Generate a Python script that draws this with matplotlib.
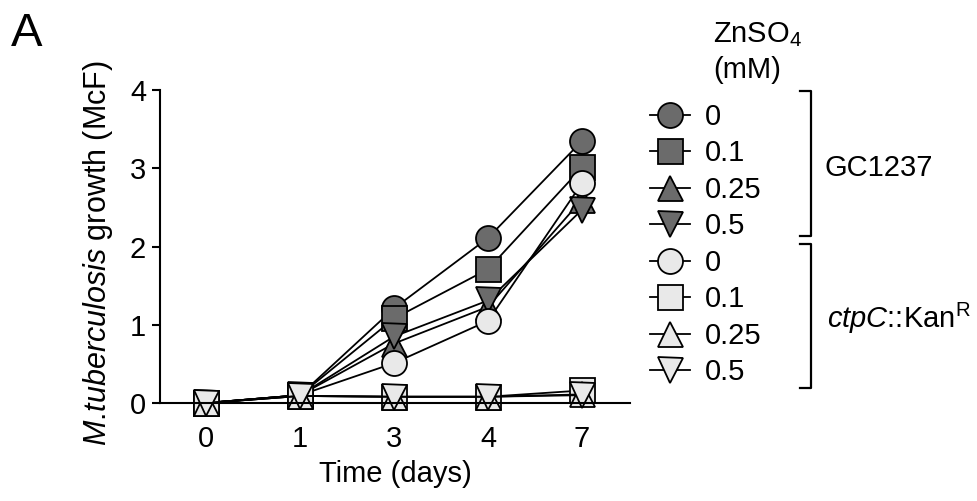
import matplotlib
matplotlib.use("Agg")
import matplotlib.pyplot as plt
from matplotlib.lines import Line2D

plt.rcParams['font.family'] = ['Liberation Sans', 'DejaVu Sans']
plt.rcParams['mathtext.fontset'] = 'custom'
plt.rcParams['mathtext.rm'] = 'Liberation Sans'
plt.rcParams['mathtext.it'] = 'Liberation Sans:italic'

days = ['0', '1', '3', '4', '7']
zn_labels = ['0', '0.1', '0.25', '0.5']

gc1237 = {
    '0':    [0, 0.10, 1.21, 2.11, 3.35],
    '0.1':  [0, 0.10, 1.08, 1.71, 3.01],
    '0.25': [0, 0.10, 0.76, 1.23, 2.60],
    '0.5':  [0, 0.10, 0.85, 1.31, 2.47],
}
ctpc = {
    '0':    [0, 0.10, 0.51, 1.05, 2.81],
    '0.1':  [0, 0.09, 0.08, 0.08, 0.16],
    '0.25': [0, 0.09, 0.08, 0.08, 0.11],
    '0.5':  [0, 0.09, 0.08, 0.08, 0.10],
}

markers = ['o', 's', '^', 'v']
dark = '#6b6b6b'
light = '#e9e9e9'
FS = 21

fig = plt.figure(figsize=(9.77, 5.01), dpi=100)
ax = fig.add_axes([160/977, 1-403/501, 470/977, 313/501])

x = range(len(days))
handles = []
for color, group in [(dark, gc1237), (light, ctpc)]:
    for m, lab in zip(markers, zn_labels):
        h, = ax.plot(x, group[lab], marker=m, color='black', lw=1.3,
                     markerfacecolor=color, markeredgecolor='black',
                     markeredgewidth=1.3, markersize=18, clip_on=False,
                     label=lab)
        handles.append(h)

ax.set_xlim(-0.49, 4.51)
ax.set_ylim(0, 4)
ax.set_xticks(list(x))
ax.set_xticklabels(days)
ax.set_yticks([0, 1, 2, 3, 4])
ax.tick_params(axis='y', direction='out', length=6, width=1.5, labelsize=FS, pad=4)
ax.tick_params(axis='x', length=0, labelsize=FS, pad=16)
for s in ['top', 'right']:
    ax.spines[s].set_visible(False)
for s in ['left', 'bottom']:
    ax.spines[s].set_linewidth(1.5)
ax.set_xlabel('Time (days)', fontsize=FS, labelpad=5)
ax.set_ylabel(r'$\mathit{M.\!tuberculosis}$ growth (McF)', fontsize=22)
ax.yaxis.set_label_coords(-0.096, 0.479)

leg = fig.legend(handles=handles, labels=zn_labels * 2, loc='upper left',
                 bbox_to_anchor=(650/977, 1-103/501), frameon=False,
                 fontsize=FS, handlelength=1.37, handletextpad=0.5,
                 labelspacing=0.29, borderaxespad=0, borderpad=0)

fig.text(713/977, 1-35/501, r'ZnSO$_4$', fontsize=FS, va='center', ha='left')
fig.text(713/977, 1-70/501, '(mM)', fontsize=FS, va='center', ha='left')

def bracket(y0, y1):
    xs = [800/977, 811/977, 811/977, 800/977]
    ys = [1-y0/501, 1-y0/501, 1-y1/501, 1-y1/501]
    fig.add_artist(Line2D(xs, ys, color='black', lw=1.6, transform=fig.transFigure))

bracket(91, 236)
bracket(244, 388)
fig.text(825/977, 1-168/501, 'GC1237', fontsize=FS, va='center', ha='left')
fig.text(827/977, 1-318/501, r'$\mathit{ctpC}$::Kan$^\mathrm{R}$', fontsize=FS, va='center', ha='left')

fig.text(11/977, 1-34/501, 'A', fontsize=34, va='center', ha='left')

fig.savefig('out.png', dpi=100)
